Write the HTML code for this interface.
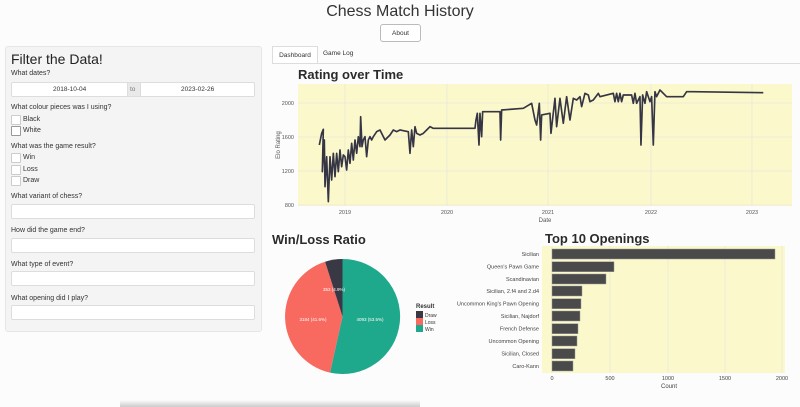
<!DOCTYPE html>
<html><head><meta charset="utf-8"><style>
body{margin:0;width:800px;height:407px;background:#fcfcfc;font-family:"Liberation Sans",sans-serif;color:#333;position:relative;overflow:hidden}
.a{position:absolute;white-space:nowrap}
.lbl{font-size:7px;color:#333}
.inp{position:absolute;left:11px;width:244px;height:15px;background:#fff;border:1px solid #ddd;border-radius:2px;box-sizing:border-box}
.cb{position:absolute;left:11px;width:8px;height:8px;border:1px solid #ccc;background:#fff;border-radius:1px}
</style></head><body>
<div class="a" style="left:0;top:3px;width:800px;text-align:center;font-size:16px;color:#333">Chess Match History</div>
<div class="a" style="left:380px;top:24px;width:41px;height:18px;border:1px solid #bbb;border-radius:3px;background:#fff;font-size:6.5px;text-align:center;line-height:18px;box-sizing:border-box">About</div>
<div class="a" style="left:5px;top:46px;width:257px;height:286px;background:#f4f4f4;border:1px solid #e6e6e6;border-radius:3px;box-sizing:border-box"></div>
<div class="a" style="left:11px;top:51px;font-size:14px;color:#222">Filter the Data!</div>
<div class="a lbl" style="left:11px;top:70px">What dates?</div>
<div class="inp" style="top:82px;height:15px"></div>
<div class="a" style="left:127px;top:82px;width:14px;height:15px;background:#e9e9e9;border:1px solid #ddd;box-sizing:border-box"></div>
<div class="a lbl" style="left:53px;top:86px;font-size:6.5px">2018-10-04</div>
<div class="a lbl" style="left:130px;top:86px;font-size:6.5px;color:#777">to</div>
<div class="a lbl" style="left:181px;top:86px;font-size:6.5px">2023-02-26</div>
<div class="a lbl" style="left:11px;top:104px">What colour pieces was I using?</div>
<div class="cb" style="top:115px"></div><div class="a lbl" style="left:23px;top:116px">Black</div>
<div class="cb" style="top:126px;border-color:#999"></div><div class="a lbl" style="left:23px;top:127px">White</div>
<div class="a lbl" style="left:11px;top:143px">What was the game result?</div>
<div class="cb" style="top:153px"></div><div class="a lbl" style="left:23px;top:154px">Win</div>
<div class="cb" style="top:165px"></div><div class="a lbl" style="left:23px;top:166px">Loss</div>
<div class="cb" style="top:176px"></div><div class="a lbl" style="left:23px;top:177px">Draw</div>
<div class="a lbl" style="left:11px;top:193px">What variant of chess?</div>
<div class="inp" style="top:204px"></div>
<div class="a lbl" style="left:11px;top:227px">How did the game end?</div>
<div class="inp" style="top:238px"></div>
<div class="a lbl" style="left:11px;top:261px">What type of event?</div>
<div class="inp" style="top:271px"></div>
<div class="a lbl" style="left:11px;top:295px">What opening did I play?</div>
<div class="inp" style="top:305px"></div>
<div class="a" style="left:272px;top:46px;width:46px;height:18px;border:1px solid #ddd;border-bottom:none;background:#fff;font-size:6.5px;text-align:center;line-height:17px;box-sizing:border-box">Dashboard</div>
<div class="a" style="left:323px;top:50px;font-size:6.5px">Game Log</div>
<div class="a" style="left:272px;top:63px;width:528px;height:1px;background:#ddd"></div>
<svg class="a" style="left:0;top:0" width="800" height="407" viewBox="0 0 800 407" font-family="Liberation Sans, sans-serif">
<text x="298" y="79" font-size="13" font-weight="bold" fill="#2b2b2b">Rating over Time</text>
<rect x="298" y="84" width="494" height="122" fill="#fbf9cc"/>
<g stroke="#e8e6d8" stroke-width="0.8">
<line x1="298" x2="792" y1="103" y2="103"/><line x1="298" x2="792" y1="137" y2="137"/><line x1="298" x2="792" y1="171" y2="171"/><line x1="298" x2="792" y1="205" y2="205"/>
<line x1="345" x2="345" y1="84" y2="206"/><line x1="447" x2="447" y1="84" y2="206"/><line x1="548" x2="548" y1="84" y2="206"/><line x1="651" x2="651" y1="84" y2="206"/><line x1="752" x2="752" y1="84" y2="206"/>
</g>
<g font-size="5.5" fill="#555" text-anchor="end"><text x="294" y="105">2000</text><text x="294" y="139">1600</text><text x="294" y="173">1200</text><text x="294" y="207">800</text></g>
<g font-size="5.5" fill="#555" text-anchor="middle"><text x="345" y="214">2019</text><text x="447" y="214">2020</text><text x="548" y="214">2021</text><text x="651" y="214">2022</text><text x="752" y="214">2023</text>
<text x="545" y="222" font-size="6">Date</text></g>
<text x="280" y="145" font-size="6" fill="#555" text-anchor="middle" transform="rotate(-90 280 145)">Elo Rating</text>
<g transform="translate(270,40) scale(0.3333)">
<path fill="none" stroke="#363544" stroke-width="5" stroke-linejoin="round" d="M148,315 L155,280 L160,268 L157,395 L163,300 L165,440 L170,350 L175,485 L180,350 L185,420 L190,340 L195,410 L200,340 L205,395 L210,330 L215,380 L220,345 L225,350 L230,390 L235,330 L240,370 L245,310 L250,360 L255,300 L260,340 L265,290 L270,320 L272,230 L276,320 L280,300 L285,290 L290,350 L295,300 L300,290 L305,300 L310,290 L320,275 L330,270 L345,300 L360,285 L370,270 L380,275 L390,270 L400,272 L415,275 L420,340 L425,270 L430,320 L435,260 L440,280 L450,285 L460,280 L470,270 L480,260 L490,265 L615,265 L618,240 L622,220 L627,315 L630,220 L635,290 L638,215 L690,215 L692,300 L695,210 L760,205 L785,190 L795,240 L800,255 L808,190 L812,300 L815,225 L840,220 L843,280 L855,175 L860,260 L870,175 L880,250 L890,170 L900,240 L910,175 L920,180 L930,170 L935,200 L945,160 L955,165 L960,185 L970,180 L985,160 L990,170 L1030,160 L1035,185 L1040,160 L1045,185 L1050,160 L1055,185 L1060,165 L1085,165 L1090,190 L1095,160 L1100,190 L1110,170 L1113,315 L1118,165 L1125,190 L1130,155 L1140,185 L1145,170 L1150,315 L1155,155 L1160,170 L1170,150 L1190,170 L1240,170 L1250,155 L1270,155 L1480,158"/>
</g>
<text x="272" y="244" font-size="13" font-weight="bold" fill="#2b2b2b">Win/Loss Ratio</text>
<path d="M342.5,316.5 L342.5,259 A57.5,57.5 0 1 1 330,372.6 Z" fill="#1fa98c"/>
<path d="M342.5,316.5 L330,372.6 A57.5,57.5 0 0 1 325.1,261.7 Z" fill="#f8695f"/>
<path d="M342.5,316.5 L325.1,261.7 A57.5,57.5 0 0 1 342.5,259 Z" fill="#393845"/>
<g font-size="4.5" fill="#fff" text-anchor="middle"><text x="334" y="291">353 (4.9%)</text><text x="313" y="321">3184 (41.6%)</text><text x="370" y="321">4093 (53.5%)</text></g>
<text x="416" y="308" font-size="6" font-weight="bold" fill="#333">Result</text>
<rect x="416" y="311" width="7" height="7" fill="#393845"/><rect x="416" y="318" width="7" height="7" fill="#f8695f"/><rect x="416" y="325" width="7" height="7" fill="#1fa98c"/>
<g font-size="5" fill="#333"><text x="425" y="317">Draw</text><text x="425" y="324">Loss</text><text x="425" y="331">Win</text></g>
<text x="545" y="243" font-size="13" font-weight="bold" fill="#2b2b2b">Top 10 Openings</text>
<rect x="542" y="246" width="243" height="127" fill="#fbf9cc"/>
<g stroke="#e8e6d8" stroke-width="0.8"><line x1="552" x2="552" y1="246" y2="373"/><line x1="610" x2="610" y1="246" y2="373"/><line x1="668" x2="668" y1="246" y2="373"/><line x1="725" x2="725" y1="246" y2="373"/><line x1="782" x2="782" y1="246" y2="373"/></g>
<g fill="#4a4a4a" stroke="#999" stroke-width="0.5">
<rect x="552" y="249" width="223" height="10"/><rect x="552" y="261.7" width="62" height="10"/><rect x="552" y="274" width="54" height="10"/><rect x="552" y="286" width="30" height="10"/><rect x="552" y="298.7" width="29" height="10"/><rect x="552" y="311" width="28" height="10"/><rect x="552" y="323.7" width="26" height="10"/><rect x="552" y="336" width="25" height="10"/><rect x="552" y="348.7" width="23" height="10"/><rect x="552" y="361" width="21" height="10"/>
</g>
<g font-size="5.5" fill="#444" text-anchor="end">
<text x="539" y="256">Sicilian</text><text x="539" y="268.7">Queen's Pawn Game</text><text x="539" y="281">Scandinavian</text><text x="539" y="293">Sicilian, 2.f4 and 2.d4</text><text x="539" y="305.7">Uncommon King's Pawn Opening</text><text x="539" y="318">Sicilian, Najdorf</text><text x="539" y="330.7">French Defense</text><text x="539" y="343">Uncommon Opening</text><text x="539" y="355.7">Sicilian, Closed</text><text x="539" y="368">Caro-Kann</text>
</g>
<g font-size="5.5" fill="#444" text-anchor="middle"><text x="552" y="380">0</text><text x="610" y="380">500</text><text x="668" y="380">1000</text><text x="725" y="380">1500</text><text x="782" y="380">2000</text><text x="669" y="388" font-size="6">Count</text></g>
</svg>
<div class="a" style="left:120px;top:400px;width:300px;height:7px;background:linear-gradient(#fcfcfc,#ccc)"></div>
</body></html>
